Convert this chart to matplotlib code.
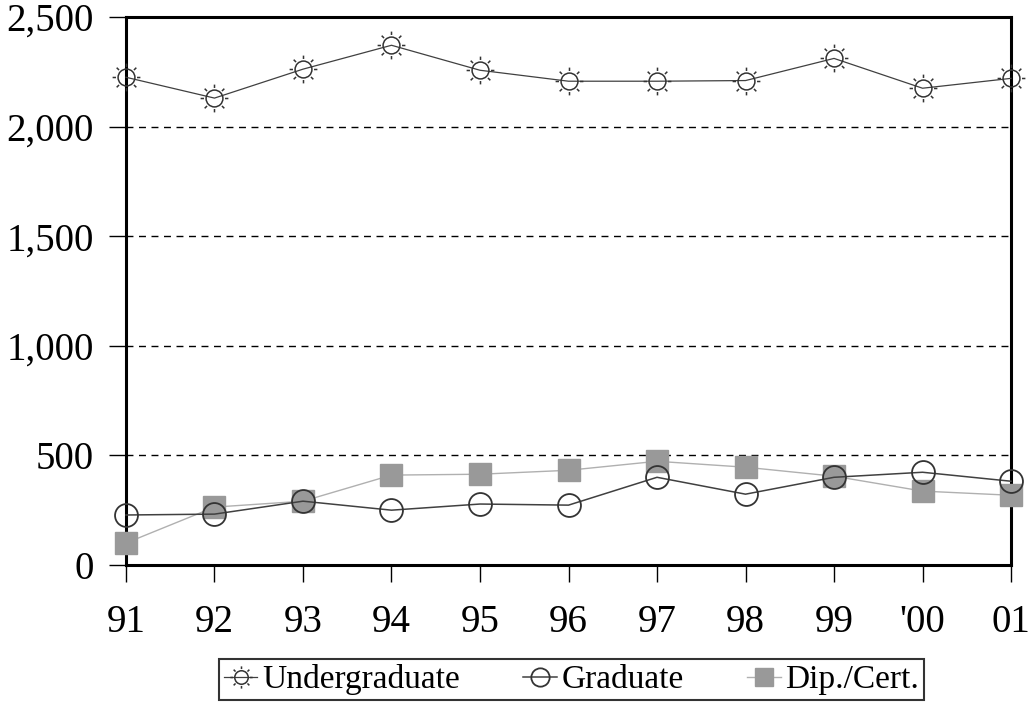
import numpy as np
import matplotlib.pyplot as plt
from matplotlib.path import Path

plt.rcParams['font.family'] = ['Liberation Serif', 'DejaVu Serif']

# 年份标签和三组数据
years = ['91', '92', '93', '94', '95', '96', '97', '98', '99', "'00", '01']
undergrad = [2225, 2130, 2262, 2371, 2257, 2207, 2207, 2210, 2311, 2175, 2220]
graduate = [228, 232, 291, 250, 278, 273, 400, 323, 400, 423, 382]
dipcert = [100, 264, 291, 410, 414, 432, 473, 446, 405, 337, 318]
yticks = [0, 500, 1000, 1500, 2000, 2500]


# 太阳形状的标记：圆 + 8 条短线
def sun_marker():
    circ = Path.unit_circle()
    verts = list(circ.vertices)
    codes = list(circ.codes)
    for a in np.arange(8) * np.pi / 4:
        verts += [(1.25 * np.cos(a), 1.25 * np.sin(a)), (1.65 * np.cos(a), 1.65 * np.sin(a))]
        codes += [Path.MOVETO, Path.LINETO]
    return Path(verts, codes)


fig = plt.figure(figsize=(10.3, 7.02), dpi=100)
ax = fig.add_axes([0.1223, 0.1952, 0.8593, 0.7806])

x = np.arange(len(years))
sun = sun_marker()

ax.plot(x, dipcert, color='#b0b0b0', lw=1.0, marker='s', ms=16,
        mfc='#999999', mec='#999999', zorder=3, label='Dip./Cert.', clip_on=False)
ax.plot(x, graduate, color='#404040', lw=1.1, marker='o', ms=16.5,
        mfc='none', mec='#333333', mew=1.3, zorder=4, label='Graduate', clip_on=False)
ax.plot(x, undergrad, color='#404040', lw=0.9, marker=sun, ms=20,
        mfc='none', mec='#333333', mew=1.1, zorder=4, label='Undergraduate', clip_on=False)

ax.set_xlim(0, len(years) - 1)
ax.set_ylim(0, 2500)
ax.set_xticks(x)
ax.set_xticklabels(years)
ax.set_yticks(yticks)
ax.set_yticklabels([f'{v:,}' for v in yticks])

for v in yticks[1:-1]:
    ax.axhline(v, color='black', lw=1.0, ls=(0, (5, 4)), zorder=1)

for s in ax.spines.values():
    s.set_linewidth(2.2)
    s.set_color('black')

ax.tick_params(axis='both', direction='out', length=12, width=1.0,
               labelsize=28, colors='black')
ax.tick_params(axis='x', pad=16)
ax.tick_params(axis='y', pad=11)

h, l = ax.get_legend_handles_labels()
order = [2, 1, 0]
leg = fig.legend([h[i] for i in order], [l[i] for i in order],
                 loc='lower center', bbox_to_anchor=(0.555, 0.0), ncol=3,
                 fontsize=24, frameon=True, fancybox=False, edgecolor='black',
                 handlelength=1.0, handletextpad=0.15, columnspacing=1.9,
                 borderpad=0.15, borderaxespad=0.05, markerscale=0.8)
leg.get_frame().set_linewidth(1.5)

fig.savefig('out.png', dpi=100)
